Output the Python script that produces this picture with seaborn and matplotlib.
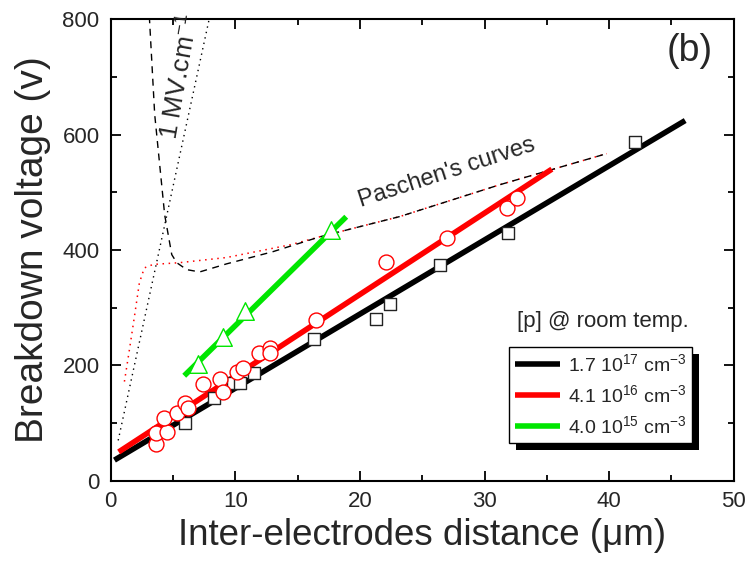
import matplotlib
matplotlib.use("Agg")
import matplotlib.pyplot as plt
from matplotlib.patches import Rectangle
from matplotlib.ticker import MultipleLocator
import seaborn as sns
import numpy as np

sq_x = [6.0, 8.3, 9.8, 10.4, 11.5, 16.3, 21.3, 22.4, 26.4, 31.9, 42.1]
sq_y = [100, 144, 170, 170, 187, 246, 281, 307, 374, 430, 588]

circ_x = [3.6, 3.6, 4.5, 4.3, 5.3, 6.0, 6.2, 7.4, 8.8, 9.0, 10.1, 10.6,
          11.9, 12.8, 12.8, 16.5, 22.1, 27.0, 31.8, 32.6]
circ_y = [64, 83, 85, 109, 118, 134, 127, 168, 177, 154, 189, 196,
          222, 231, 222, 279, 380, 421, 473, 491]

tri_x = [7.0, 9.0, 10.8, 17.7]
tri_y = [203, 250, 295, 435]

# linear fits (slope, intercept, x range)
fit_black = (12.85, 32.0, 0.3, 46.1)
fit_red = (14.1, 41.0, 0.64, 35.4)
fit_green = (21.2, 57.0, 5.9, 18.9)

# Paschen curves and 1 MV/cm line
pas_k_x = [3.1, 3.53, 3.93, 4.33, 4.9, 5.3, 6.1, 7.14, 9.3, 13.0, 16.8, 23.2, 31.2, 39.8]
pas_k_y = [805, 635, 548, 461, 392, 378, 366, 362, 376, 397, 423, 458, 513, 567]
pas_r_x = [1.1, 1.5, 1.9, 2.3, 2.7, 3.4, 5.5, 9.3, 14.4, 16.8, 23.2, 31.2, 39.8]
pas_r_y = [172, 227, 284, 343, 369, 375, 378, 387, 409, 423, 458, 513, 567]
field_x = [0.6, 8.0]
field_y = [70, 810]

labels = ["1.7 10$^{17}$ cm$^{-3}$", "4.1 10$^{16}$ cm$^{-3}$", "4.0 10$^{15}$ cm$^{-3}$"]

sns.set_style("ticks")
plt.rcParams['font.family'] = ['Liberation Sans', 'DejaVu Sans']
plt.rcParams['mathtext.default'] = 'regular'

fig = plt.figure(figsize=(7.48, 5.65), dpi=100)
ax = fig.add_axes([0.148, 0.149, 0.833, 0.817])

# paschen curves
sns.lineplot(x=pas_r_x, y=pas_r_y, ax=ax, color='red', lw=1.1, ls=(0, (1, 3)), sort=False)
sns.lineplot(x=pas_k_x, y=pas_k_y, ax=ax, color='black', lw=1.0, ls=(0, (5, 4)), sort=False)
sns.lineplot(x=field_x, y=field_y, ax=ax, color='black', lw=1.0, ls=(0, (1, 3)), sort=False)

# fitted lines
for fit, col, lab in [(fit_black, 'black', labels[0]), (fit_red, 'red', labels[1]),
                      (fit_green, '#00e600', labels[2])]:
    a, b, x0, x1 = fit
    xx = np.array([x0, x1])
    sns.lineplot(x=xx, y=a * xx + b, ax=ax, color=col, lw=4.0, label=lab,
                 solid_capstyle='butt')

sns.scatterplot(x=sq_x, y=sq_y, ax=ax, marker='s', s=85, facecolor='white',
                edgecolor='#222222', linewidth=1.0, zorder=5, legend=False)
sns.scatterplot(x=circ_x, y=circ_y, ax=ax, marker='o', s=115, facecolor='white',
                edgecolor='red', linewidth=1.0, zorder=5, legend=False)
sns.scatterplot(x=tri_x, y=tri_y, ax=ax, marker='^', s=160, facecolor='white',
                edgecolor='#00e600', linewidth=1.0, zorder=5, legend=False)

ax.set_xlim(0, 50)
ax.set_ylim(0, 800)
ax.xaxis.set_major_locator(MultipleLocator(10))
ax.xaxis.set_minor_locator(MultipleLocator(5))
ax.yaxis.set_major_locator(MultipleLocator(200))
ax.yaxis.set_minor_locator(MultipleLocator(100))
ax.tick_params(which='both', direction='in', top=True, right=True, width=1.3,
               labelsize=16, color='black')
ax.tick_params(which='major', length=7)
ax.tick_params(which='minor', length=4)
ax.tick_params(axis='x', pad=7)
ax.tick_params(axis='y', pad=8)
for sp in ax.spines.values():
    sp.set_linewidth(1.5)
    sp.set_color('black')

ax.set_xlabel("Inter-electrodes distance (\u03bcm)", fontsize=26.5, labelpad=5)
ax.set_ylabel("Breakdown voltage (v)", fontsize=28, labelpad=8)

ax.text(5.6, 700, "1 MV.cm$^{-1}$", rotation=80, fontsize=19, ha='center', va='center')
ax.text(27.0, 533, "Paschen's curves", rotation=18, fontsize=17, ha='center', va='center')
ax.text(46.5, 745, "(b)", fontsize=27, ha='center', va='center')
ax.text(39.5, 276, "[p] @ room temp.", fontsize=16, ha='center', va='center')

leg = ax.legend(loc='upper left', bbox_to_anchor=(0.640, 0.290), borderaxespad=0,
                fontsize=14, fancybox=False, framealpha=1, edgecolor='black',
                handlelength=2.3, handletextpad=0.4, labelspacing=0.48,
                borderpad=0.3)
leg.get_frame().set_linewidth(1.0)
leg.set_zorder(10)

# offset black shadow behind legend
fig.canvas.draw()
bb = leg.get_frame().get_window_extent().transformed(ax.transAxes.inverted())
dx = 7 / (ax.bbox.width)
dy = 7 / (ax.bbox.height)
shadow = Rectangle((bb.x0 + dx, bb.y0 - dy), bb.width, bb.height, transform=ax.transAxes,
                   facecolor='black', edgecolor='none', zorder=9, clip_on=False)
ax.add_patch(shadow)

fig.savefig("out.png", dpi=100)
